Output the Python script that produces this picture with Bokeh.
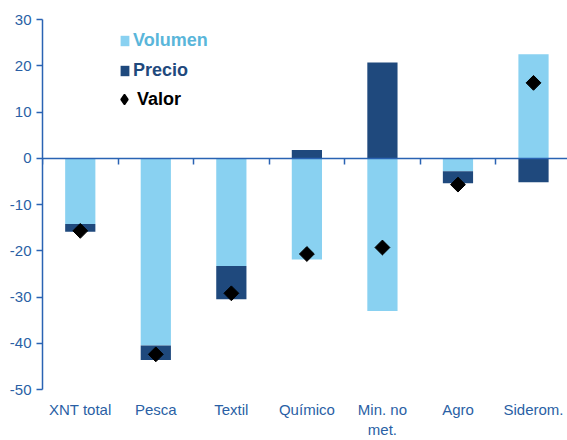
from bokeh.plotting import figure
from bokeh.models import (Range1d, LinearAxis, FixedTicker, Legend, LegendItem,
                          ColumnDataSource)
from bokeh.embed import file_html
from bokeh.resources import INLINE
import numpy as np

categories = ["XNT total", "Pesca", "Textil", "Químico", "Min. no\nmet.", "Agro", "Siderom."]
volumen = [-14.2, -40.5, -23.3, -21.9, -33.0, -2.8, 22.5]
precio = [-1.7, -3.1, -7.2, 1.8, 20.7, -2.6, -5.2]
valor = [-15.7, -42.4, -29.2, -20.7, -19.3, -5.7, 16.3]
y_ticks = [-50, -40, -30, -20, -10, 0, 10, 20, 30]

C_VOL = "#89d1f1"
C_PRE = "#1f497d"
C_AX = "#2a63b3"
C_TXT = "#2a5fa5"

x = np.arange(len(categories))
v = np.array(volumen)
pr = np.array(precio)
same = np.sign(v) == np.sign(pr)
p_bottom = np.where(same, v, 0.0)
p_top = p_bottom + pr

src = ColumnDataSource(dict(x=x, v=v, v0=np.zeros_like(v), pb=p_bottom, pt=p_top,
                            val=np.array(valor)))

p = figure(width=567, height=440, output_backend="svg", toolbar_location=None,
           x_range=Range1d(-0.5, 6.45), y_range=Range1d(-50, 30),
           min_border_left=42, min_border_right=0, min_border_top=19, min_border_bottom=48)
p.outline_line_color = None
p.xgrid.grid_line_color = None
p.ygrid.grid_line_color = None
p.background_fill_color = "white"
p.border_fill_color = "white"

r_vol = p.vbar(x="x", bottom="v0", top="v", width=0.4, source=src,
               fill_color=C_VOL, line_color=None)
r_pre = p.vbar(x="x", bottom="pb", top="pt", width=0.4, source=src,
               fill_color=C_PRE, line_color=None)
# diamond glyph (used for legend), hidden beneath the wider rotated-square markers
r_val_leg = p.scatter(x="x", y="val", source=src, marker="diamond", size=10,
                      fill_color="black", line_color="black", line_width=1.5)
r_val = p.scatter(x="x", y="val", source=src, marker="square", angle=np.pi / 4,
                  size=10.5, fill_color="black", line_color="black")

# bottom axis: category labels only
xa = p.xaxis[0]
xa.ticker = FixedTicker(ticks=list(range(len(categories))))
xa.major_label_overrides = {i: c for i, c in enumerate(categories)}
xa.axis_line_color = None
xa.major_tick_line_color = None
xa.major_tick_in = 0
xa.major_tick_out = 0
xa.minor_tick_line_color = None
xa.major_label_standoff = 11
xa.major_label_text_font = "Liberation Sans"
xa.major_label_text_font_size = "15px"
xa.major_label_text_color = C_TXT

# zero line axis (drawn at y=0, ticks pointing down)
za = LinearAxis(fixed_location=0,
                ticker=FixedTicker(ticks=[i + 0.5 for i in range(-1, len(categories))]))
za.major_label_text_font_size = "0px"
za.major_label_text_color = None
za.major_label_standoff = 0
za.axis_line_color = C_AX
za.axis_line_width = 1.5
za.major_tick_line_color = C_AX
za.major_tick_line_width = 1.5
za.major_tick_in = 6
za.major_tick_out = 0
za.minor_tick_line_color = None
p.add_layout(za, "above")

ya = p.yaxis[0]
ya.ticker = FixedTicker(ticks=y_ticks)
ya.major_label_overrides = {t: str(t) for t in y_ticks}
ya.axis_line_color = C_AX
ya.axis_line_width = 1.5
ya.major_tick_line_color = C_AX
ya.major_tick_line_width = 1.5
ya.major_tick_in = 0
ya.major_tick_out = 6
ya.minor_tick_line_color = None
ya.major_label_standoff = 5
ya.major_label_text_font = "Liberation Sans"
ya.major_label_text_font_size = "15px"
ya.major_label_text_color = C_TXT

def mk_legend(item, color, xloc, y, gw, gh, standoff):
    lg = Legend(items=[item], location=(xloc, y), orientation="vertical",
                padding=0, margin=0, spacing=0,
                border_line_color=None, background_fill_alpha=0,
                glyph_width=gw, glyph_height=gh, label_standoff=standoff, label_height=20,
                label_text_font="Liberation Sans", label_text_font_style="bold",
                label_text_font_size="18px", label_text_color=color)
    p.add_layout(lg, "center")

mk_legend(LegendItem(label="Volumen", renderers=[r_vol]), "#5ab6da", 77, 338, 11, 13, 3)
mk_legend(LegendItem(label="Precio", renderers=[r_pre]), C_PRE, 77, 308, 11, 13, 3)
mk_legend(LegendItem(label="Valor", renderers=[r_val_leg]), "black", 69, 277, 26, 26, -3)

open("out.html", "w").write(file_html(p, INLINE))
